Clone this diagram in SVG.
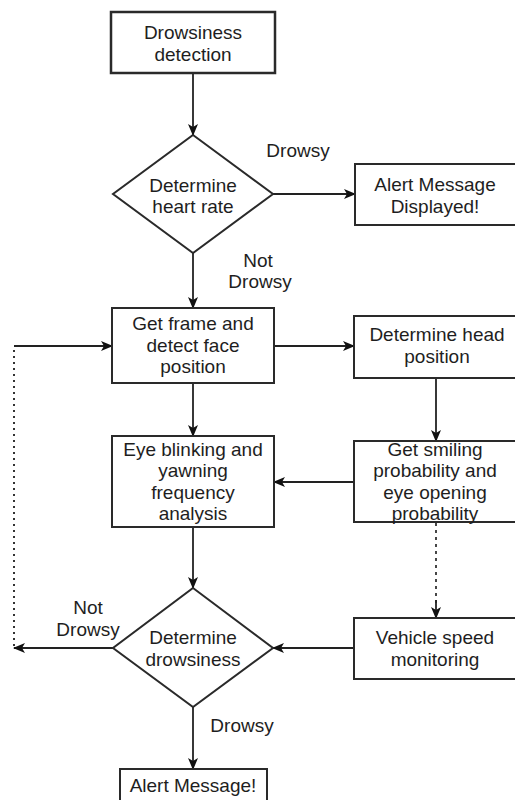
<svg xmlns="http://www.w3.org/2000/svg" width="515" height="800" viewBox="0 0 515 800">
<defs>
<marker id="ah" viewBox="0 0 12 10" refX="11" refY="5" markerWidth="12" markerHeight="10" markerUnits="userSpaceOnUse" orient="auto">
<path d="M0,0 L12,5 L0,10 L3,5 Z" fill="#111"/>
</marker>
<style>
.box{fill:#fff;stroke:#2a2a2a;stroke-width:2}
.t{font-family:"Liberation Sans",Arial,sans-serif;font-size:19px;fill:#1e1e1e;text-anchor:middle}
.c{fill:none;stroke:#222;stroke-width:1.8}
.dot{fill:none;stroke:#333;stroke-width:2;stroke-dasharray:2 4}
.dash{fill:none;stroke:#333;stroke-width:1.8;stroke-dasharray:3 4}
</style>
</defs>
<rect width="515" height="800" fill="#fff"/>
<g id="connectors">
<line class="c" x1="193" y1="73" x2="193" y2="135" marker-end="url(#ah)"/>
<line class="c" x1="273" y1="194" x2="355" y2="194" marker-end="url(#ah)"/>
<line class="c" x1="193" y1="253" x2="193" y2="308" marker-end="url(#ah)"/>
<line class="c" x1="274" y1="346" x2="354" y2="346" marker-end="url(#ah)"/>
<line class="c" x1="14" y1="346" x2="112" y2="346" marker-end="url(#ah)"/>
<line class="c" x1="193" y1="383" x2="193" y2="436" marker-end="url(#ah)"/>
<line class="c" x1="436" y1="378" x2="436" y2="441" marker-end="url(#ah)"/>
<line class="c" x1="354" y1="482" x2="274" y2="482" marker-end="url(#ah)"/>
<line class="c" x1="193" y1="527" x2="193" y2="588" marker-end="url(#ah)"/>
<line class="dash" x1="436" y1="523" x2="436" y2="605"/>
<line class="c" x1="436" y1="600" x2="436" y2="618" marker-end="url(#ah)"/>
<line class="c" x1="354" y1="648" x2="273" y2="648" marker-end="url(#ah)"/>
<line class="c" x1="113" y1="648" x2="14" y2="648" marker-end="url(#ah)"/>
<line class="dot" x1="14" y1="350" x2="14" y2="646"/>
<line class="c" x1="193" y1="707" x2="193" y2="769" marker-end="url(#ah)"/>
<text class="t" x="298" y="157">Drowsy</text>
<text class="t" x="258" y="267">Not</text>
<text class="t" x="260" y="288">Drowsy</text>
<text class="t" x="88" y="614">Not</text>
<text class="t" x="88" y="636">Drowsy</text>
<text class="t" x="242" y="732">Drowsy</text>
</g>
<g id="start">
<rect class="box" x="111" y="12" width="164" height="61" style="stroke-width:2.5"/>
<text class="t" x="193" y="39">Drowsiness</text>
<text class="t" x="193" y="61">detection</text>
</g>
<g id="heart">
<polygon class="box" points="193,135 273,194 193,253 113,194"/>
<text class="t" x="193" y="192">Determine</text>
<text class="t" x="193" y="213">heart rate</text>
</g>
<g id="alert1">
<rect class="box" x="355" y="164" width="170" height="61"/>
<text class="t" x="435" y="191">Alert Message</text>
<text class="t" x="435" y="213">Displayed!</text>
</g>
<g id="frame">
<rect class="box" x="112" y="308" width="162" height="75"/>
<text class="t" x="193" y="330">Get frame and</text>
<text class="t" x="193" y="352">detect face</text>
<text class="t" x="193" y="373">position</text>
</g>
<g id="head">
<rect class="box" x="354" y="316" width="170" height="62"/>
<text class="t" x="437" y="341">Determine head</text>
<text class="t" x="437" y="363">position</text>
</g>
<g id="eye">
<rect class="box" x="112" y="436" width="162" height="91"/>
<text class="t" x="193" y="456">Eye blinking and</text>
<text class="t" x="193" y="477">yawning</text>
<text class="t" x="193" y="499">frequency</text>
<text class="t" x="193" y="520">analysis</text>
</g>
<g id="smile">
<rect class="box" x="354" y="441" width="170" height="81"/>
<text class="t" x="435" y="456">Get smiling</text>
<text class="t" x="435" y="477">probability and</text>
<text class="t" x="435" y="499">eye opening</text>
<text class="t" x="435" y="520">probability</text>
</g>
<g id="drowsiness">
<polygon class="box" points="193,588 273,648 193,707 113,648"/>
<text class="t" x="193" y="644">Determine</text>
<text class="t" x="193" y="666">drowsiness</text>
</g>
<g id="speed">
<rect class="box" x="354" y="618" width="170" height="61"/>
<text class="t" x="435" y="644">Vehicle speed</text>
<text class="t" x="435" y="666">monitoring</text>
</g>
<g id="alert2">
<rect class="box" x="120" y="769" width="147" height="45"/>
<text class="t" x="193" y="792">Alert Message!</text>
</g>
</svg>
